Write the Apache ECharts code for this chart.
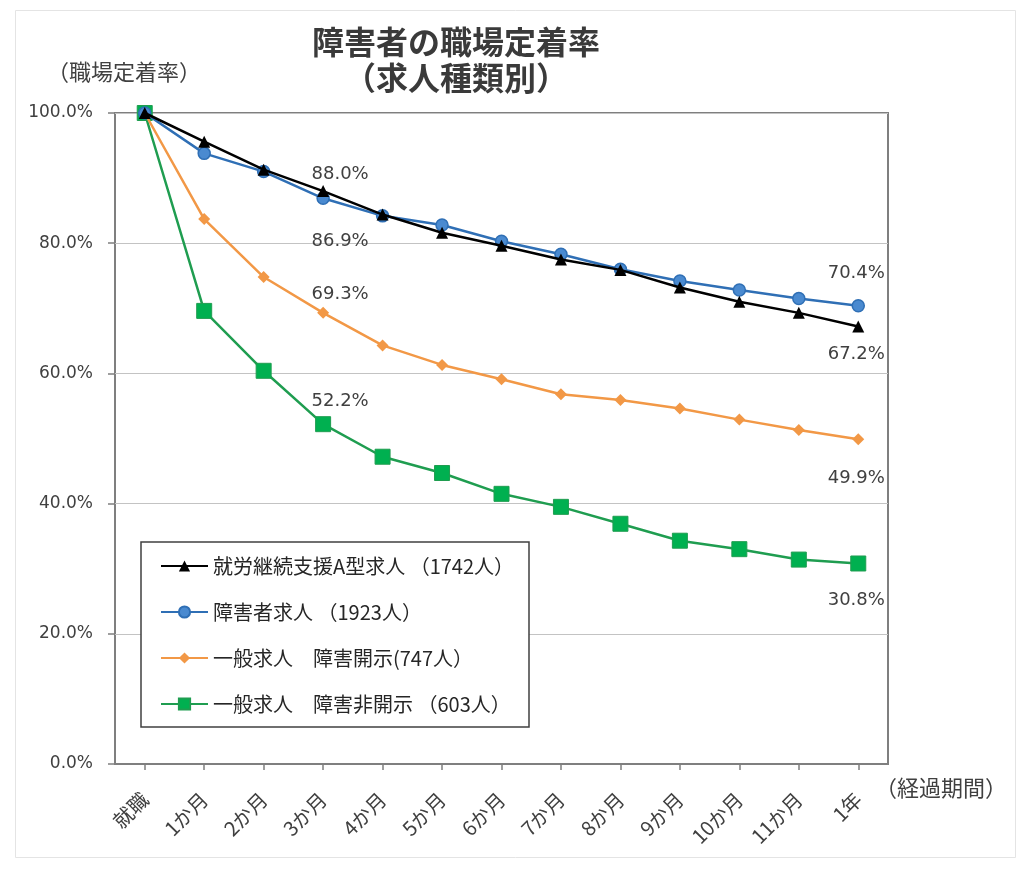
<!DOCTYPE html>
<html>
<head>
<meta charset="utf-8">
<script src="https://cdn.jsdelivr.net/npm/echarts@6/dist/echarts.min.js"></script>
<style>
html,body{margin:0;padding:0;background:#fff;}
#chart{width:1024px;height:877px;}
</style>
</head>
<body>
<div id="chart"></div>
<script>
// ---- data ----
const categories = ['就職','1か月','2か月','3か月','4か月','5か月','6か月','7か月','8か月','9か月','10か月','11か月','1年'];
const seriesNames = ['就労継続支援A型求人 （1742人）','障害者求人 （1923人）','一般求人　障害開示(747人）','一般求人　障害非開示 （603人）'];
const typeA = [100, 95.6, 91.3, 88.0, 84.4, 81.6, 79.6, 77.5, 75.9, 73.2, 71.0, 69.3, 67.2];
const disabled = [100, 93.8, 91.0, 86.9, 84.2, 82.8, 80.3, 78.3, 76.0, 74.2, 72.8, 71.5, 70.4];
const generalOpen = [100, 83.7, 74.8, 69.3, 64.3, 61.3, 59.1, 56.8, 55.9, 54.6, 52.9, 51.3, 49.9];
const generalClosed = [100, 69.6, 60.4, 52.2, 47.2, 44.7, 41.5, 39.5, 36.9, 34.3, 33.0, 31.4, 30.8];
const yTicks = [0, 20, 40, 60, 80, 100];

const NUM_FONT = 'DejaVu Sans';
const JP_FONT = '"Noto Sans CJK JP"';

function withLabels(values, labelSpec) {
  return values.map((v, i) => {
    const spec = labelSpec[i];
    if (!spec) return v;
    return {
      value: v,
      label: {
        show: true,
        position: 'inside',
        offset: spec,
        formatter: (p) => p.value.toFixed(1) + '%',
        color: '#404040',
        fontFamily: NUM_FONT,
        fontSize: 18
      }
    };
  });
}

const chart = echarts.init(document.getElementById('chart'), null, {renderer: 'canvas'});
const option = {
  backgroundColor: '#ffffff',
  animation: false,
  grid: {left: 115, right: 136, top: 113, bottom: 113, show: true, borderColor: '#7f7f7f', borderWidth: 2, backgroundColor: 'transparent'},
  graphic: [
    {type: 'rect', z: -10, shape: {x: 15.5, y: 10.5, width: 1000, height: 847}, style: {fill: '#ffffff', stroke: '#e4e4e4', lineWidth: 1}},
    {type: 'text', z: 10, x: 456, y: 42, style: {text: '障害者の職場定着率', fontFamily: JP_FONT, fontSize: 32, fontWeight: 'bold', fill: '#3a3a3a', textAlign: 'center', textVerticalAlign: 'middle'}},
    {type: 'text', z: 10, x: 456, y: 78, style: {text: '（求人種類別）', fontFamily: JP_FONT, fontSize: 32, fontWeight: 'bold', fill: '#3a3a3a', textAlign: 'center', textVerticalAlign: 'middle'}},
    {type: 'text', z: 10, x: 124, y: 72, style: {text: '（職場定着率）', fontFamily: JP_FONT, fontSize: 22, fill: '#404040', textAlign: 'center', textVerticalAlign: 'middle'}},
    {type: 'text', z: 10, x: 941, y: 788, style: {text: '（経過期間）', fontFamily: JP_FONT, fontSize: 22, fill: '#404040', textAlign: 'center', textVerticalAlign: 'middle'}},
    {type: 'rect', z: 20, shape: {x: 141, y: 542, width: 388, height: 185}, style: {fill: '#ffffff', stroke: '#404040', lineWidth: 1.5}}
  ],
  legend: {
    z: 30,
    left: 141, top: 542,
    orient: 'vertical',
    padding: [14, 20, 13, 19],
    itemWidth: 47, itemHeight: 14,
    itemGap: 26,
    textStyle: {fontFamily: JP_FONT, fontSize: 20, color: '#262626', lineHeight: 20},
    data: seriesNames
  },
  xAxis: {
    type: 'category',
    data: categories,
    boundaryGap: true,
    axisLine: {show: true, lineStyle: {color: '#7f7f7f', width: 2}},
    axisTick: {show: true, alignWithLabel: true, length: 6, lineStyle: {color: '#7f7f7f', width: 1.5}},
    axisLabel: {rotate: 45, margin: 32, fontFamily: JP_FONT, fontSize: 20, color: '#404040', interval: 0},
    splitLine: {show: false}
  },
  yAxis: {
    type: 'value',
    min: yTicks[0], max: yTicks[yTicks.length - 1], interval: 20,
    axisLine: {show: false},
    axisTick: {show: true, inside: false, length: 7, lineStyle: {color: '#7f7f7f', width: 1.5}},
    axisLabel: {margin: 22, fontFamily: NUM_FONT, fontSize: 17, color: '#404040', formatter: (v) => v.toFixed(1) + '%'},
    splitLine: {show: true, lineStyle: {color: '#c3c3c3', width: 1.2}}
  },
  series: [
    {
      name: seriesNames[0], type: 'line', z: 5,
      data: withLabels(typeA, {3: [17, -17], 12: [-2, 28]}),
      symbol: 'triangle', symbolSize: 12,
      lineStyle: {color: '#000000', width: 2.5},
      itemStyle: {color: '#000000'}
    },
    {
      name: seriesNames[1], type: 'line', z: 4,
      data: withLabels(disabled, {3: [17, 43], 12: [-2, -32]}),
      symbol: 'circle', symbolSize: 12,
      lineStyle: {color: '#2f6fb5', width: 2.5},
      itemStyle: {color: '#4a8ad0', borderColor: '#2f6fb5', borderWidth: 1.5}
    },
    {
      name: seriesNames[2], type: 'line', z: 3,
      data: withLabels(generalOpen, {3: [17, -19], 12: [-2, 39]}),
      symbol: 'diamond', symbolSize: 12,
      lineStyle: {color: '#f29846', width: 2.5},
      itemStyle: {color: '#f29846'}
    },
    {
      name: seriesNames[3], type: 'line', z: 2,
      data: withLabels(generalClosed, {3: [17, -23], 12: [-2, 37]}),
      symbol: 'rect', symbolSize: 15,
      lineStyle: {color: '#1f9d50', width: 2.5},
      itemStyle: {color: '#00b050', borderColor: '#1f9d50', borderWidth: 1}
    }
  ]
};
chart.setOption(option);
</script>
</body>
</html>
